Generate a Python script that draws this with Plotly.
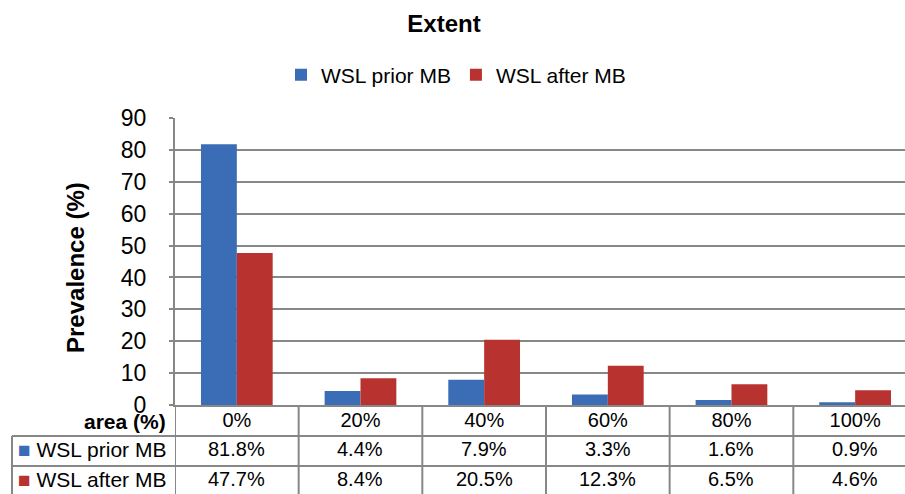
import plotly.graph_objects as go

# Dados
CATEGORIAS = ["0%", "20%", "40%", "60%", "80%", "100%"]
SERIES = ["WSL prior MB", "WSL after MB"]
PRIOR_MB = [81.8, 4.4, 7.9, 3.3, 1.6, 0.9]
AFTER_MB = [47.7, 8.4, 20.5, 12.3, 6.5, 4.6]
Y_TICKS = [0, 10, 20, 30, 40, 50, 60, 70, 80, 90]

TITULO = "Extent"
TITULO_Y = "Prevalence (%)"
TITULO_X = "area (%)"

AZUL = "#3a6db5"
VERMELHO = "#b8332f"
CINZA = "#878787"
FONTE = "Liberation Sans, Arial, sans-serif"

# geometria em pixels (janela 905x494)
W, H = 905, 494
ESQ, TOPO, BASE = 175, 118, 405
ALT_PLOT = BASE - TOPO
LARG_PLOT = W - ESQ


def py(ypx):
    """pixel vertical -> coordenada paper"""
    return (BASE - ypx) / ALT_PLOT


def px_(xpx):
    """pixel horizontal -> coordenada paper"""
    return (xpx - ESQ) / LARG_PLOT


fig = go.Figure()
for nome, valores, cor in [(SERIES[0], PRIOR_MB, AZUL), (SERIES[1], AFTER_MB, VERMELHO)]:
    fig.add_trace(
        go.Bar(
            x=list(range(len(CATEGORIAS))),
            y=valores,
            name=nome,
            marker=dict(color=cor, line_width=0),
            hoverinfo="y+name",
        )
    )

# tabela de dados embaixo do gráfico
formas = []
for y in [436, 466]:
    formas.append(dict(type="line", xref="paper", yref="paper", x0=px_(12), x1=1.02,
                       y0=py(y), y1=py(y), line=dict(color=CINZA, width=2)))
formas.append(dict(type="line", xref="paper", yref="paper", x0=px_(12), x1=px_(12),
                   y0=py(436), y1=py(500), line=dict(color=CINZA, width=2)))
for k in range(len(CATEGORIAS) + 1):
    formas.append(dict(type="line", xref="x", yref="paper", x0=k - 0.5, x1=k - 0.5,
                       y0=0, y1=py(500), line=dict(color=CINZA, width=2)))

anotacoes = [
    dict(text=f"<b>{TITULO_X}</b>", xref="paper", yref="paper", x=px_(168), y=py(421),
         xanchor="right", yanchor="middle", showarrow=False, font=dict(size=21)),
    dict(text=f"<b>{TITULO_Y}</b>", xref="paper", yref="paper", x=px_(75), y=py(268),
         xanchor="center", yanchor="middle", textangle=-90, showarrow=False,
         font=dict(size=24)),
]
for nome, valores, cor, ypx in [(SERIES[0], PRIOR_MB, AZUL, 449), (SERIES[1], AFTER_MB, VERMELHO, 479)]:
    anotacoes.append(
        dict(text=f"<span style='color:{cor}'>■</span> {nome}", xref="paper", yref="paper",
             x=px_(16), y=py(ypx), xanchor="left", yanchor="middle", showarrow=False,
             font=dict(size=21))
    )
    for i, v in enumerate(valores):
        anotacoes.append(
            dict(text=f"{v:.1f}%", xref="x", yref="paper", x=i, y=py(ypx),
                 xanchor="center", yanchor="middle", showarrow=False, font=dict(size=20))
        )

fig.update_layout(
    width=W,
    height=H,
    margin=dict(l=ESQ, r=0, t=TOPO, b=H - BASE, autoexpand=False),
    paper_bgcolor="white",
    plot_bgcolor="white",
    font=dict(family=FONTE, color="#000000", size=20),
    title=dict(text=f"<b>{TITULO}</b>", x=444 / W, xanchor="center",
               y=1 - 24 / H, yanchor="middle", font=dict(size=24)),
    legend=dict(orientation="h", x=px_(456), xanchor="center", y=py(75), yanchor="middle",
                font=dict(size=21), itemwidth=30, traceorder="normal"),
    barmode="group",
    bargap=0.42,
    bargroupgap=0,
    shapes=formas,
    annotations=anotacoes,
    showlegend=True,
)
fig.update_xaxes(
    tickmode="array",
    tickvals=list(range(len(CATEGORIAS))),
    ticktext=CATEGORIAS,
    range=[-0.5, 5.5 - 12 / 124],
    showgrid=False,
    showline=True,
    linecolor=CINZA,
    linewidth=2,
    ticks="",
    ticklabelstandoff=-4,
    tickfont=dict(size=20),
    automargin=False,
    fixedrange=True,
)
fig.update_yaxes(
    range=[0, 90],
    tickvals=Y_TICKS,
    showgrid=True,
    gridcolor=CINZA,
    gridwidth=2,
    showline=True,
    linecolor=CINZA,
    linewidth=2,
    ticks="outside",
    ticklen=4,
    tickcolor=CINZA,
    tickwidth=2,
    ticklabelstandoff=18,
    tickfont=dict(size=23),
    zeroline=False,
    automargin=False,
    fixedrange=True,
)

# a página tem margem de 8px no body; zera para a figura ocupar a janela toda
fig.write_html(
    "out.html",
    config={"displayModeBar": False},
    post_script="document.body.style.margin='0';",
)
